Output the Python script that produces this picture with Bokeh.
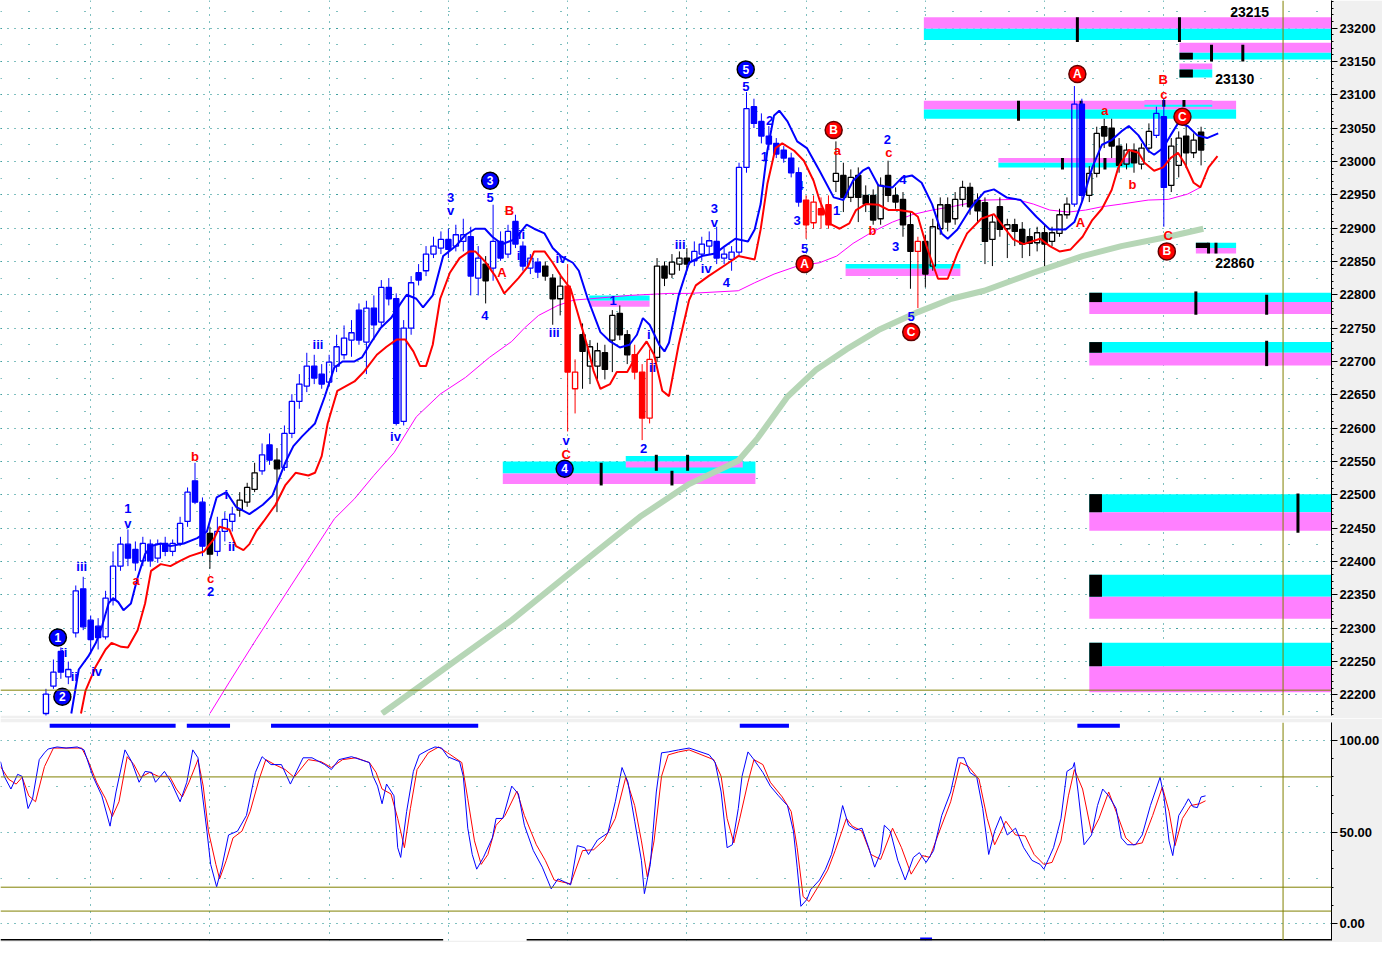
import numpy as np
from bokeh.plotting import figure
from bokeh.layouts import column
from bokeh.models import Range1d, FixedTicker, SingleIntervalTicker, Span, ColumnDataSource
from bokeh.core.properties import value
from bokeh.embed import file_html
from bokeh.resources import INLINE

# ---------------- price bars (bar index, OHLC) ----------------
BAR = list(range(2, 158))
OPEN = [22172,22213,22265,22227,22293,22359,22312,22303,22287,22342,
        22393,22426,22418,22401,22426,22405,22427,22415,22427,22460,
        22521,22489,22442,22415,22445,22460,22477,22489,22508,22536,
        22575,22552,22541,22592,22640,22663,22693,22681,22669,22693,
        22710,22732,22777,22729,22780,22759,22811,22794,22610,22750,
        22833,22836,22861,22870,22883,22873,22880,22887,22825,22846,
        22840,22880,22861,22910,22873,22840,22849,22843,22825,22794,
        22813,22659,22740,22693,22693,22713,22732,22772,22740,22710,
        22684,22615,22706,22843,22831,22846,22855,22851,22861,22873,
        22880,22855,22853,22864,22991,23082,23060,23038,23027,23017,
        23005,22983,22942,22908,22929,22935,22970,22979,22946,22979,
        22949,22949,22914,22979,22949,22943,22905,22865,22880,22843,
        22899,22935,22914,22943,22961,22942,22938,22883,22932,22899,
        22905,22898,22887,22878,22893,22880,22892,22920,22936,23086,
        22949,22982,23052,23050,23023,22996,23017,22996,23020,23039,
        23067,22964,22994,23038,23013,23044]
HIGH = [22209,22253,22271,22250,22364,22377,22319,22315,22356,22415,
        22437,22448,22430,22437,22433,22433,22437,22433,22467,22511,
        22548,22496,22452,22467,22474,22482,22504,22518,22548,22577,
        22592,22570,22604,22651,22681,22713,22710,22696,22710,22740,
        22754,22762,22787,22791,22799,22822,22825,22802,22762,22828,
        22846,22873,22887,22895,22899,22905,22914,22902,22873,22858,
        22935,22895,22905,22920,22880,22861,22855,22850,22831,22828,
        22846,22703,22757,22732,22728,22725,22777,22784,22747,22725,
        22696,22718,22855,22850,22861,22865,22870,22880,22887,22895,
        22902,22870,22873,22998,23104,23094,23072,23053,23035,23023,
        23013,22991,22949,22949,22946,22949,23030,22998,22988,22991,
        22964,22958,22976,23001,22961,22954,22924,22887,22890,22914,
        22946,22946,22954,22971,22968,22952,22946,22920,22946,22914,
        22914,22909,22899,22902,22905,22902,22929,22946,23113,23094,
        22993,23052,23064,23064,23035,23027,23027,23027,23057,23082,
        23094,23035,23045,23057,23042,23052]
LOW = [22167,22209,22224,22216,22286,22297,22261,22268,22283,22334,
       22386,22393,22386,22393,22392,22398,22408,22408,22423,22452,
       22486,22408,22389,22408,22430,22445,22467,22482,22504,22530,
       22545,22474,22536,22585,22629,22654,22666,22659,22663,22684,
       22703,22707,22725,22681,22732,22752,22784,22604,22604,22740,
       22814,22828,22855,22861,22855,22865,22865,22799,22799,22787,
       22821,22851,22855,22870,22836,22831,22825,22821,22755,22769,
       22595,22622,22659,22666,22673,22673,22684,22732,22696,22673,
       22582,22607,22699,22813,22825,22836,22836,22843,22851,22861,
       22846,22846,22836,22858,22983,23050,23027,23017,23005,22998,
       22976,22932,22884,22899,22899,22899,22954,22924,22939,22909,
       22924,22905,22905,22939,22929,22887,22809,22780,22811,22836,
       22890,22895,22905,22932,22920,22909,22846,22843,22887,22855,
       22873,22855,22858,22865,22843,22873,22887,22914,22932,22939,
       22939,22976,23020,23005,22983,22988,22983,22988,23013,23035,
       22902,22954,22976,22990,23005,22994]
CLOSE = [22201,22234,22234,22238,22356,22302,22283,22286,22345,22393,
         22426,22405,22398,22427,22401,22426,22415,22427,22457,22504,
         22489,22423,22411,22445,22463,22471,22492,22511,22533,22560,
         22552,22539,22592,22640,22666,22693,22675,22666,22699,22722,
         22735,22743,22732,22780,22755,22811,22794,22607,22750,22818,
         22822,22861,22873,22883,22868,22890,22890,22828,22855,22821,
         22880,22855,22895,22876,22843,22855,22834,22828,22794,22813,
         22684,22684,22715,22722,22716,22688,22769,22740,22710,22684,
         22615,22703,22843,22825,22849,22855,22846,22865,22876,22881,
         22855,22861,22864,22991,23079,23057,23038,23026,23011,23005,
         22983,22939,22905,22939,22920,22905,22982,22946,22976,22946,
         22936,22912,22964,22949,22939,22905,22865,22880,22831,22902,
         22935,22909,22943,22961,22932,22926,22880,22909,22898,22905,
         22895,22876,22877,22893,22876,22893,22920,22936,23086,22949,
         22982,23042,23038,23023,22994,23017,22998,23020,23045,23072,
         22961,23023,23035,23013,23032,23017]
# wave state of each bar, run-length: impulse / neutral / correction
STATE_RUNS = [("imp",22),("neu",1),("imp",3),("neu",3),("imp",2),("neu",1),("imp",27),
              ("neu",1),("imp",7),("neu",3),("cor",2),("neu",7),("cor",3),("neu",5),
              ("imp",15),("cor",4),("neu",11),("cor",1),("neu",20),("imp",2),("neu",9),
              ("imp",2),("neu",5)]

# ---------------- moving averages ----------------
MA_FAST_X = [5.4,6.4,7.7,8.7,9.5,10.4,11.0,11.7,12.4,13.4,14.3,15.3,16.1,17.4,18.7,20.5,22.3,23.6,24.9,26.2,
             27.5,29.3,31.1,32.4,34.1,35.2,36.4,38.1,39.4,40.7,41.8,43.4,44.4,45.6,46.9,48.3,49.6,50.4,51.7,52.6,
             53.9,55.3,57.0,58.3,59.6,60.9,61.9,63.2,64.9,66.5,67.5,68.9,70.0,71.1,72.7,73.5,74.7,76.4,77.7,79.0,
             80.3,81.3,82.1,83.0,84.3,85.0,85.6,86.9,88.3,90.0,91.8,93.1,94.5,96.2,97.1,97.9,98.8,99.7,100.4,101.5,
             102.8,104.1,105.8,107.7,109.0,110.3,111.6,112.4,113.7,115.6,116.9,118.2,119.5,120.9,122.2,123.0,124.3,126.2,127.9,129.2,
             130.9,132.8,134.9,136.7,138.8,140.0,141.1,142.4,143.7,145.0,146.3,147.3,148.6,149.9,150.7,151.9,152.9,153.9,155.2,156.5,
             157.8,159.3]
MA_FAST = [22172,22238,22258,22278,22302,22337,22345,22339,22327,22337,22376,22411,22423,22427,22423,22427,22435,22445,22496,22504,
           22482,22471,22485,22499,22548,22573,22588,22607,22647,22691,22700,22700,22706,22728,22750,22765,22787,22800,22794,22781,
           22799,22858,22873,22890,22899,22899,22887,22876,22883,22905,22899,22892,22870,22858,22848,22836,22794,22744,22730,22721,
           22725,22740,22765,22755,22725,22715,22728,22799,22848,22858,22862,22873,22884,22880,22898,22936,23016,23069,23076,23060,
           23030,23020,22986,22946,22942,22971,22986,22991,22964,22961,22976,22979,22968,22936,22892,22884,22898,22932,22954,22958,
           22946,22942,22917,22898,22898,22909,22942,22991,23025,23032,23045,23053,23039,23016,23010,23020,23039,23057,23053,23039,
           23035,23042]
MA_SLOW_X = [6.7,7.3,8.7,10.0,10.8,12.1,13.0,14.3,15.3,16.1,17.4,18.7,20.0,21.3,23.2,24.5,25.3,26.6,27.5,28.5,
             29.3,30.2,31.2,32.8,34.1,35.5,37.2,38.1,39.0,39.8,41.1,43.4,44.7,46.4,47.7,49.1,50.2,51.3,52.2,53.0,
             53.9,54.9,56.2,57.5,58.8,59.6,60.9,62.3,63.5,64.5,65.4,66.7,67.5,68.9,70.0,71.1,72.4,73.7,74.7,75.5,
             76.4,77.7,78.6,80.0,81.3,82.6,83.6,84.7,85.6,86.9,88.3,89.2,90.9,93.6,94.9,97.1,97.9,98.8,99.9,100.8,
             102.4,103.7,105.0,105.8,107.1,108.5,109.8,110.7,112.0,113.7,115.1,116.4,118.2,119.0,120.3,121.7,123.0,124.3,125.6,127.5,
             129.2,130.5,131.8,133.2,135.4,136.7,138.0,139.5,141.1,142.4,143.7,145.0,145.9,147.3,148.6,149.4,150.7,151.9,152.9,153.9,
             154.9,156.0,156.9,158.0,159.2]
MA_SLOW = [22172,22206,22243,22268,22278,22272,22271,22297,22337,22386,22396,22393,22401,22408,22415,22433,22452,22448,22423,22417,
           22426,22445,22460,22485,22514,22533,22529,22533,22558,22607,22656,22670,22685,22710,22722,22733,22733,22715,22693,22693,
           22725,22794,22833,22855,22865,22865,22850,22828,22802,22814,22825,22843,22865,22865,22848,22828,22809,22759,22721,22685,
           22659,22666,22684,22684,22710,22730,22710,22656,22648,22725,22792,22814,22828,22848,22858,22853,22898,22966,23020,23027,
           23016,23001,22971,22942,22907,22899,22907,22927,22936,22935,22927,22927,22924,22917,22868,22824,22824,22862,22892,22914,
           22921,22902,22883,22876,22884,22873,22865,22868,22887,22912,22929,22957,22991,23017,23013,22998,22986,22991,23005,23013,
           22995,22968,22961,22991,23008]
MA_MID_X = [24.0,26.6,30.2,40.7,43.4,46.0,48.7,51.7,54.9,58.3,61.5,64.5,66.2,68.1,70.7,72.8,75.1,80.3,85.6,88.3,
            94.9,97.1,99.7,102.8,105.8,108.1,110.3,113.0,115.6,118.2,120.9,123.5,127.9,132.2,134.5,136.7,139.2,141.5,143.7,146.3,
            149.9,152.6,155.2,156.9]
MA_MID = [22172,22219,22283,22464,22494,22529,22563,22617,22651,22676,22706,22730,22750,22769,22784,22792,22794,22799,22802,22802,
          22806,22818,22831,22843,22848,22858,22877,22895,22909,22920,22927,22932,22942,22943,22936,22927,22924,22927,22932,22936,
          22942,22943,22951,22961]
MA_LONG_X = [47.1,55.3,64.5,75.1,81.7,88.3,94.9,97.5,101.5,105.4,109.4,113.7,119.0,123.5,127.9,134.5,141.1,146.3,152.6,157.3]
MA_LONG = [22172,22238,22312,22408,22467,22516,22551,22585,22647,22688,22718,22747,22774,22794,22806,22833,22858,22873,22887,22899]

# ---------------- target / support-resistance zones ----------------
ZONE_L = [119.8,154.1,154.1,119.8,149.4,129.8,156.3,109.3,63.3,79.8,74.9,142.0,142.0,142.0,142.0,142.0]
ZONE_R = [175,175,158.5,161.7,158.5,147.9,161.7,124.7,97.2,95.5,83.0,175,175,175,175,175]
ZONE_TOP = [23216,23178,23147,23091,23092,23005,22878,22846,22550,22558,22799,22803,22729,22501,22380,22278]
ZONE_MID = [23199,23163,23138,23078,23085,22998,22870,22839,22532,22550,22791,22789,22713,22474,22347,22243]
ZONE_BOT = [23182,23153,23126,23064,23082,22991,22862,22828,22516,22541,22782,22771,22694,22446,22314,22204]
ZONE_KIND = ["R","R","R","R","R","R","S","S","S","S","S","S","S","S","S","S"]
BOX_L = [154.1,154.1,156.3,142.0,142.0,142.0,142.0,142.0]
BOX_R = [155.9,155.9,158.0,143.7,143.7,143.7,143.7,143.7]
BOX_TOP = [23163,23138,22878,22803,22729,22501,22380,22278]
BOX_BOT = [23153,23126,22870,22789,22713,22474,22347,22243]
TICK_X = [140.4,154.1,158.4,162.6,132.5,140.9,152.0,154.7,138.4,144.1,158.0,159.0,76.5,86.0,83.9,88.1,156.3,165.8,165.8,170.0]
TICK_TOP = [23216,23216,23175,23175,23091,23091,23092,23092,23005,23005,22878,22878,22548,22536,22560,22560,22805,22800,22731,22502]
TICK_BOT = [23179,23179,23150,23150,23061,23064,23082,23082,22988,22988,22862,22862,22514,22514,22536,22536,22770,22770,22693,22443]
LEVEL_TXT = ["23215", "23130", "22860"]
LEVEL_X = [160.9, 158.9, 158.9]
LEVEL_Y = [23224, 23123, 22847]
REF_LEVEL = 22207
CURSOR_BAR = 168

# ---------------- wave labels ----------------
IMP_TXT = ["iii","ii","ii","iv","1","v","2","i","ii","iii","iv","3","v","5","4","ii","i","iv","iii","v",
           "1","i","ii","2","iii","iv","3","v","4","5","2","1","4","3","5","1","2","4","3","5"]
IMP_X = [6.8,4.4,5.8,8.8,13.0,13.0,24.1,26.2,26.9,38.5,48.9,56.3,56.3,61.6,60.9,65.8,65.4,71.1,70.2,71.8,
         78.1,82.9,83.4,82.2,87.1,90.6,91.7,91.7,93.3,95.9,99.1,98.4,103.2,102.8,103.8,108.1,114.9,117.0,116.0,118.1]
IMP_Y = [22393,22263,22227,22235,22479,22457,22355,22501,22423,22725,22588,22946,22926,22946,22769,22890,22859,22855,22743,22581,
         22791,22740,22691,22569,22876,22839,22930,22909,22818,23113,23061,23007,22964,22911,22870,22927,23033,22973,22873,22768]
COR_TXT = ["b","a","c","B","A","C","a","b","c","a","b","A","B","c","C"]
COR_X = [22.0,14.1,24.1,64.2,63.2,71.8,108.2,112.9,115.1,144.1,147.8,140.8,151.9,152.0,152.6]
COR_Y = [22558,22371,22374,22927,22833,22560,23016,22896,23013,23076,22966,22908,23123,23101,22889]
IMP_CIRC_TXT = ["1","2","3","4","5"]
IMP_CIRC_X = [3.6,4.2,61.6,71.6,95.9]
IMP_CIRC_Y = [22286,22197,22971,22539,23138]
COR_CIRC_TXT = ["A","B","C","A","C","B"]
COR_CIRC_X = [103.8,107.7,118.1,140.4,154.5,152.4]
COR_CIRC_Y = [22846,23047,22744,23131,23067,22865]

# ---------------- stochastic ----------------
K_X = [-4.1,-3.6,-2.7,-1.8,-1.2,-0.4,0.2,1.1,1.8,2.3,3.5,4.7,6.2,7.1,8.3,9.5,10.6,11.4,12.6,13.5,
       14.5,15.3,16.2,16.7,17.9,18.8,20.0,20.9,21.7,22.4,22.9,23.6,24.1,24.9,25.6,26.5,27.7,28.9,30.1,31.0,
       32.2,33.6,34.8,36.5,37.7,39.4,40.3,41.3,43.0,44.2,45.4,45.9,46.5,47.1,47.7,48.7,49.2,49.6,50.4,51.3,
       52.1,53.3,54.2,55.1,55.9,57.5,58.0,58.6,59.2,59.8,60.7,61.9,62.4,63.3,64.5,65.4,66.2,67.4,68.6,69.8,
       70.7,71.6,72.4,73.3,74.3,74.8,76.0,77.4,78.4,79.3,80.1,81.0,81.9,82.3,83.1,83.9,84.6,85.5,86.9,88.3,
       91.0,91.8,92.6,93.4,94.1,94.9,95.4,96.2,97.0,98.2,99.2,100.3,101.5,102.3,102.8,103.3,104.1,104.6,105.8,106.6,
       107.4,108.2,108.9,109.7,110.7,111.5,112.4,113.2,114.0,114.5,115.3,116.3,117.3,118.4,119.2,120.1,121.1,122.2,123.4,124.4,
       125.2,126.0,126.9,127.7,128.5,129.3,130.1,131.0,132.1,133.2,134.3,135.4,135.9,136.5,137.2,138.2,139.0,139.8,140.0,140.5,
       141.3,142.3,143.1,143.8,144.6,145.6,146.3,147.1,148.2,149.1,150.2,151.5,152.0,152.7,153.2,154.0,154.8,155.3,155.9,156.5,
       157.0,157.6]
K_V = [88.3,80.3,73.4,81.4,80.3,62.8,68.1,89.4,93.1,95.2,96.3,95.7,96.3,94.7,80.3,69.7,53.2,71.8,94.7,88.3,
       77.1,83.0,82.4,77.1,83.0,77.1,66.5,77.1,94.7,90.4,73.4,50.5,32.4,20.2,30.9,48.4,50.5,59.0,82.4,91.0,
       86.7,86.7,76.1,90.4,90.4,86.7,84.0,89.4,91.0,89.4,87.8,80.3,75.0,65.4,76.1,69.7,41.5,36.2,61.2,83.0,
       92.0,94.7,96.3,95.7,91.0,88.3,80.3,52.1,37.8,29.8,36.2,46.8,57.4,57.4,75.0,70.7,53.7,39.9,30.9,19.1,
       24.5,22.9,21.3,42.6,41.5,37.8,45.7,49.5,66.5,85.1,77.1,55.9,34.6,16.5,32.4,71.8,93.1,93.6,94.7,95.7,
       92.0,87.8,71.8,41.5,43.1,62.8,80.3,93.6,89.4,82.4,75.0,69.7,64.4,50.5,30.9,9.6,13.3,18.6,23.9,29.8,
       37.8,50.5,64.4,53.7,51.1,52.1,41.5,30.9,38.8,53.7,50.5,34.6,23.9,36.2,38.8,33.5,39.9,59.0,71.8,90.4,
       90.4,82.4,79.8,62.8,37.8,50.5,58.5,48.4,52.1,41.5,34.6,32.4,29.8,35.1,41.5,57.4,83.0,85.1,87.8,71.8,
       43.1,48.4,64.4,73.4,69.7,62.8,46.8,43.1,43.1,48.4,64.4,79.8,69.7,45.2,37.2,59.0,64.4,68.1,63.8,63.3,
       69.1,69.7]
D_X = [-4.1,-3.0,-2.0,-1.2,-0.3,0.6,1.8,3.0,4.7,6.8,7.6,8.8,10.0,10.9,11.8,12.9,13.8,14.7,15.9,17.1,
       18.6,19.5,20.3,21.2,22.4,23.1,23.8,24.8,25.3,26.2,27.1,28.3,29.4,30.6,31.5,32.7,34.1,35.3,37.2,38.9,
       40.3,41.8,43.6,45.4,46.3,47.1,48.3,49.2,50.1,50.9,51.8,53.3,54.7,55.9,57.8,58.6,59.5,60.4,61.3,62.4,
       63.6,65.2,66.2,67.8,69.0,70.2,71.2,72.4,74.0,75.5,76.9,78.4,79.8,81.0,81.9,82.7,83.6,84.6,85.5,86.9,
       88.3,91.6,92.6,93.4,94.3,95.1,96.2,97.0,98.2,99.2,100.8,102.0,102.8,103.6,104.4,105.6,106.9,107.9,109.4,110.2,
       111.5,112.7,114.0,115.6,116.8,118.1,119.6,120.6,121.7,123.4,124.7,125.8,127.2,128.3,129.3,130.8,132.1,133.4,134.6,135.9,
       137.0,138.2,139.2,140.0,141.1,142.3,143.3,144.6,145.8,146.9,147.9,149.1,150.5,151.8,152.7,153.5,154.5,155.6,156.8,157.6]
D_V = [85.6,78.7,76.1,79.8,69.7,66.5,85.6,95.7,95.7,95.7,89.4,77.1,68.1,58.5,66.5,91.0,86.7,79.8,82.4,80.3,
       80.3,73.4,69.1,77.1,89.4,75.0,50.5,32.4,24.5,34.6,46.8,50.5,61.2,78.7,89.4,86.7,84.0,79.8,89.4,88.3,
       85.1,89.4,90.4,87.8,82.4,73.4,70.7,57.4,41.5,62.8,84.0,93.1,96.3,93.1,87.8,68.1,45.2,32.4,37.8,53.7,
       59.0,72.3,59.0,43.1,34.6,23.9,22.9,21.8,39.9,40.4,45.7,57.4,79.8,64.4,45.2,25.5,45.2,80.3,92.0,93.6,
       94.7,89.4,80.3,57.4,44.1,57.4,77.1,89.4,86.7,77.1,69.1,61.2,41.5,14.9,12.2,20.2,29.3,39.9,57.4,53.2,
       50.5,37.8,35.1,52.1,41.5,27.1,37.2,36.2,48.4,66.5,87.8,85.6,78.7,57.4,43.1,55.9,48.4,47.9,37.8,32.4,
       33.5,45.2,69.7,84.0,73.4,49.5,57.4,71.8,59.0,46.8,43.1,44.1,59.0,74.5,61.2,42.6,57.4,64.4,65.4,67.0]
STO_LEVELS = [80, 20, 7]
SIG_L = [2.5, 20.9, 32.2, 95.1, 140.4]
SIG_R = [19.4, 26.7, 60.0, 101.7, 146.1]
MARK_L = [119.3]
MARK_R = [120.9]

# ---------------- styling ----------------
FONT = "Liberation Sans"
TEAL = "#008080"
OLIVE = "#808000"
BLUE = "#0000ff"
RED = "#ff0000"
CYAN = "#00ffff"
PINK = "#ff80ff"
GRAYBG = "#f0f0f0"
STATE_COLOR = {"imp": BLUE, "neu": "black", "cor": RED}
W = 1382
RB = 50
xr = Range1d(-4.1, 174.5)


def common(f):
    f.outline_line_color = None
    f.background_fill_color = "white"
    f.border_fill_color = GRAYBG
    f.xgrid.ticker = FixedTicker(ticks=list(np.arange(8, 160, 16)), minor_ticks=[])
    f.xgrid.grid_line_color = TEAL
    f.xgrid.grid_line_dash = "1 6"
    f.ygrid.grid_line_color = TEAL
    f.ygrid.grid_line_dash = "1 6"
    f.ygrid.minor_grid_line_color = TEAL
    f.ygrid.minor_grid_line_dash = "1 27"
    ax = f.yaxis[0]
    ax.axis_line_color = "black"
    ax.major_tick_out = 6
    ax.major_tick_in = 0
    ax.minor_tick_out = 2
    ax.minor_tick_in = 0
    ax.major_label_text_font = FONT
    ax.major_label_text_font_style = "bold"
    ax.major_label_text_font_size = "13px"
    ax.major_label_text_color = "black"
    ax.major_label_standoff = 2
    f.add_layout(Span(location=CURSOR_BAR, dimension="height", line_color=OLIVE, line_width=1))


# ================= main price panel =================
p = figure(width=W, height=718, x_range=xr, y_range=Range1d(22169, 23241.3),
           output_backend="svg", toolbar_location=None, x_axis_location=None,
           y_axis_location="right", min_border_left=0, min_border_right=RB,
           min_border_top=0, min_border_bottom=3)
common(p)
p.yaxis.ticker = SingleIntervalTicker(interval=50, num_minor_ticks=5)
p.ygrid.ticker = SingleIntervalTicker(interval=50, num_minor_ticks=2)

# zones
zl, zr, zt, zb, zc = [], [], [], [], []
for L, R, T, M, B, k in zip(ZONE_L, ZONE_R, ZONE_TOP, ZONE_MID, ZONE_BOT, ZONE_KIND):
    up, lo = (PINK, CYAN) if k == "R" else (CYAN, PINK)
    zl += [L, L]; zr += [R, R]; zt += [T, M]; zb += [M, B]; zc += [up, lo]
p.quad(left=zl, right=zr, top=zt, bottom=zb, fill_color=zc, line_color=None)
p.quad(left=BOX_L, right=BOX_R, top=BOX_TOP, bottom=BOX_BOT, fill_color="black", line_color=None)
p.segment(x0=TICK_X, y0=TICK_BOT, x1=TICK_X, y1=TICK_TOP, line_color="black", line_width=3)

p.add_layout(Span(location=REF_LEVEL, dimension="width", line_color=OLIVE, line_width=1))

# long & mid averages beneath candles
p.line(MA_LONG_X, MA_LONG, line_color="#b6d6b6", line_width=6)
p.line(MA_MID_X, MA_MID, line_color="#ff00ff", line_width=1)

# candles
states = []
for st, n in STATE_RUNS:
    states += [st] * n
o = np.array(OPEN); c = np.array(CLOSE); h = np.array(HIGH); l = np.array(LOW)
top = np.maximum(o, c); bot = np.minimum(o, c)
cols = [STATE_COLOR[st] for st in states]
fills = [col if cc < oo else None for col, oo, cc in zip(cols, o, c)]
src = ColumnDataSource(dict(x=BAR, h=h, l=l, top=top, bot=bot, col=cols, fill=fills))
p.segment(x0="x", y0="top", x1="x", y1="h", line_color="col", line_width=1, source=src)
p.segment(x0="x", y0="bot", x1="x", y1="l", line_color="col", line_width=1, source=src)
p.vbar(x="x", width=0.7, top="top", bottom="bot", fill_color="fill", line_color="col",
       line_width=1.3, source=src)

# fast / slow averages on top
p.line(MA_SLOW_X, MA_SLOW, line_color=RED, line_width=2)
p.line(MA_FAST_X, MA_FAST, line_color=BLUE, line_width=2)

# wave labels
p.text(x=IMP_X, y=IMP_Y, text=IMP_TXT, text_color=BLUE, text_font=value(FONT),
       text_font_style="bold", text_font_size="13px", text_align="center", text_baseline="middle")
p.text(x=COR_X, y=COR_Y, text=COR_TXT, text_color=RED, text_font=value(FONT),
       text_font_style="bold", text_font_size="13px", text_align="center", text_baseline="middle")
p.scatter(x=IMP_CIRC_X, y=IMP_CIRC_Y, marker="circle", size=17, fill_color=BLUE,
          line_color="black", line_width=1.5)
p.text(x=IMP_CIRC_X, y=IMP_CIRC_Y, text=IMP_CIRC_TXT, text_color="white", text_font=value(FONT),
       text_font_style="bold", text_font_size="12px", text_align="center", text_baseline="middle")
p.scatter(x=COR_CIRC_X, y=COR_CIRC_Y, marker="circle", size=17, fill_color=RED,
          line_color="#600000", line_width=1.5)
p.text(x=COR_CIRC_X, y=COR_CIRC_Y, text=COR_CIRC_TXT, text_color="white", text_font=value(FONT),
       text_font_style="bold", text_font_size="12px", text_align="center", text_baseline="middle")
p.text(x=LEVEL_X, y=LEVEL_Y, text=LEVEL_TXT, text_color="black", text_font=value(FONT),
       text_font_style="bold", text_font_size="14px", text_align="left", text_baseline="middle")

# ================= stochastic panel =================
s = figure(width=W, height=224, x_range=xr, y_range=Range1d(-9.0, 109.6),
           output_backend="svg", toolbar_location=None, x_axis_location=None,
           y_axis_location="right", min_border_left=0, min_border_right=RB,
           min_border_top=4, min_border_bottom=2)
common(s)
s.yaxis.ticker = FixedTicker(ticks=[0, 50, 100], minor_ticks=list(range(-10, 111, 10)))
s.yaxis.major_label_overrides = {0: "0.00", 50: "50.00", 100: "100.00"}
s.ygrid.ticker = FixedTicker(ticks=[0, 50, 100], minor_ticks=[25, 75])
for lv in STO_LEVELS:
    s.add_layout(Span(location=lv, dimension="width", line_color=OLIVE, line_width=1))
s.quad(left=SIG_L, right=SIG_R, top=108.9, bottom=106.8, fill_color=BLUE, line_color=None)
s.quad(left=MARK_L, right=MARK_R, top=-7.4, bottom=-9.0, fill_color=BLUE, line_color=None)
s.line(D_X, D_V, line_color=RED, line_width=1)
s.line(K_X, K_V, line_color=BLUE, line_width=1)
s.segment(x0=[-4.1, 66.5], y0=[-8.7, -8.7], x1=[55.3, 174.5], y1=[-8.7, -8.7],
          line_color="black", line_width=2)

layout = column(p, s, spacing=0)
open("out.html", "w").write(file_html(layout, INLINE))
